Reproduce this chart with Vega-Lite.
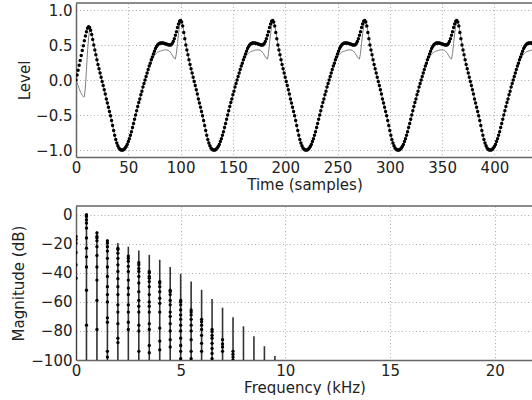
{
"$schema": "https://vega.github.io/schema/vega-lite/v6.json",
"padding": {"left": 11, "top": 2, "right": 0, "bottom": 0},
"background": "white",
"bounds": "flush",
"spacing": 49,
"config": {
 "view": {"stroke": null},
 "font": "DejaVu Sans",
 "axis": {"labelFont": "DejaVu Sans", "labelFontSize": 15, "titleFont": "DejaVu Sans", "titleFontSize": 15, "titleFontWeight": "normal", "labelColor": "#222", "titleColor": "#222", "domainColor": "#666", "domainWidth": 1.5, "tickSize": 0, "gridColor": "#aaa", "gridDash": [1, 2.5], "gridWidth": 1, "labelPadding": 4, "labelFlush": false, "labelOverlap": false}
},
"datasets": {
 "wave": [
{"t":0,"a":0,"b":0},{"t":1,"a":0.07,"b":-0.04},{"t":2,"a":0.14,"b":-0.08},{"t":3,"a":0.21,"b":-0.12},{"t":4,"a":0.28,"b":-0.16},{"t":5,"a":0.35,"b":-0.19},{"t":6,"a":0.42,"b":-0.22},{"t":7,"a":0.49,"b":-0.24},{"t":8,"a":0.56,"b":-0.24},{"t":9,"a":0.63,"b":-0.1},{"t":10,"a":0.69,"b":0.15},{"t":11,"a":0.74,"b":0.4},{"t":12,"a":0.76,"b":0.6},{"t":13,"a":0.75,"b":0.72},{"t":14,"a":0.71,"b":0.73},{"t":15,"a":0.65,"b":0.67},{"t":16,"a":0.58,"b":0.59},{"t":17,"a":0.5,"b":0.51},{"t":18,"a":0.43,"b":0.44},{"t":19,"a":0.36,"b":0.37},
{"t":20,"a":0.29,"b":0.29},{"t":21,"a":0.22,"b":0.22},{"t":22,"a":0.16,"b":0.16},{"t":23,"a":0.1,"b":0.1},{"t":24,"a":0.04,"b":0.04},{"t":25,"a":-0.02,"b":-0.02},{"t":26,"a":-0.08,"b":-0.08},{"t":27,"a":-0.14,"b":-0.14},{"t":28,"a":-0.2,"b":-0.2},{"t":29,"a":-0.27,"b":-0.27},{"t":30,"a":-0.33,"b":-0.33},{"t":31,"a":-0.39,"b":-0.39},{"t":32,"a":-0.45,"b":-0.45},{"t":33,"a":-0.51,"b":-0.51},{"t":34,"a":-0.58,"b":-0.58},{"t":35,"a":-0.65,"b":-0.65},{"t":36,"a":-0.72,"b":-0.72},{"t":37,"a":-0.79,"b":-0.79},{"t":38,"a":-0.85,"b":-0.85},{"t":39,"a":-0.9,"b":-0.9},{"t":40,"a":-0.94,"b":-0.94},{"t":41,"a":-0.97,"b":-0.97},{"t":42,"a":-0.99,"b":-0.99},{"t":43,"a":-1,"b":-1},{"t":44,"a":-1,"b":-1},{"t":45,"a":-1,"b":-1},{"t":46,"a":-0.99,"b":-0.99},{"t":47,"a":-0.97,"b":-0.97},{"t":48,"a":-0.95,"b":-0.95},{"t":49,"a":-0.92,"b":-0.92},{"t":50,"a":-0.88,"b":-0.88},{"t":51,"a":-0.84,"b":-0.84},{"t":52,"a":-0.79,"b":-0.79},{"t":53,"a":-0.74,"b":-0.74},{"t":54,"a":-0.68,"b":-0.68},{"t":55,"a":-0.62,"b":-0.62},{"t":56,"a":-0.56,"b":-0.56},{"t":57,"a":-0.5,"b":-0.5},{"t":58,"a":-0.44,"b":-0.44},{"t":59,"a":-0.38,"b":-0.38},{"t":60,"a":-0.32,"b":-0.32},{"t":61,"a":-0.27,"b":-0.27},{"t":62,"a":-0.21,"b":-0.21},{"t":63,"a":-0.16,"b":-0.16},{"t":64,"a":-0.1,"b":-0.1},{"t":65,"a":-0.05,"b":-0.05},{"t":66,"a":0,"b":0},{"t":67,"a":0.05,"b":0.05},{"t":68,"a":0.1,"b":0.1},{"t":69,"a":0.15,"b":0.15},
{"t":70,"a":0.2,"b":0.195},{"t":71,"a":0.24,"b":0.235},{"t":72,"a":0.29,"b":0.27},{"t":73,"a":0.33,"b":0.3},{"t":74,"a":0.37,"b":0.325},{"t":75,"a":0.41,"b":0.35},{"t":76,"a":0.45,"b":0.37},{"t":77,"a":0.48,"b":0.385},{"t":78,"a":0.5,"b":0.395},{"t":79,"a":0.515,"b":0.405},{"t":80,"a":0.525,"b":0.41},{"t":81,"a":0.53,"b":0.415},{"t":82,"a":0.53,"b":0.42},{"t":83,"a":0.53,"b":0.425},{"t":84,"a":0.525,"b":0.43},{"t":85,"a":0.52,"b":0.43},{"t":86,"a":0.515,"b":0.43},{"t":87,"a":0.51,"b":0.43},{"t":88,"a":0.505,"b":0.425},{"t":89,"a":0.5,"b":0.415},{"t":90,"a":0.5,"b":0.4},{"t":91,"a":0.505,"b":0.38},{"t":92,"a":0.52,"b":0.355},{"t":93,"a":0.55,"b":0.33},{"t":94,"a":0.59,"b":0.31},{"t":95,"a":0.64,"b":0.3},{"t":96,"a":0.69,"b":0.38},{"t":97,"a":0.75,"b":0.52},{"t":98,"a":0.8,"b":0.66},{"t":99,"a":0.84,"b":0.77},
{"t":100,"a":0.85,"b":0.83},{"t":101,"a":0.83,"b":0.82},{"t":102,"a":0.77,"b":0.78},{"t":103,"a":0.68,"b":0.7},{"t":104,"a":0.59,"b":0.61},{"t":105,"a":0.5,"b":0.52},{"t":106,"a":0.43,"b":0.44},{"t":107,"a":0.36,"b":0.37},
{"t":108,"a":0.29,"b":0.29},{"t":109,"a":0.22,"b":0.22},{"t":110,"a":0.16,"b":0.16},{"t":111,"a":0.1,"b":0.1},{"t":112,"a":0.04,"b":0.04},{"t":113,"a":-0.02,"b":-0.02},{"t":114,"a":-0.08,"b":-0.08},{"t":115,"a":-0.14,"b":-0.14},{"t":116,"a":-0.2,"b":-0.2},{"t":117,"a":-0.27,"b":-0.27},{"t":118,"a":-0.33,"b":-0.33},{"t":119,"a":-0.39,"b":-0.39},{"t":120,"a":-0.45,"b":-0.45},{"t":121,"a":-0.51,"b":-0.51},{"t":122,"a":-0.58,"b":-0.58},{"t":123,"a":-0.65,"b":-0.65},{"t":124,"a":-0.72,"b":-0.72},{"t":125,"a":-0.79,"b":-0.79},{"t":126,"a":-0.85,"b":-0.85},{"t":127,"a":-0.9,"b":-0.9},{"t":128,"a":-0.94,"b":-0.94},{"t":129,"a":-0.97,"b":-0.97},{"t":130,"a":-0.99,"b":-0.99},{"t":131,"a":-1,"b":-1},{"t":132,"a":-1,"b":-1},{"t":133,"a":-1,"b":-1},{"t":134,"a":-0.99,"b":-0.99},{"t":135,"a":-0.97,"b":-0.97},{"t":136,"a":-0.95,"b":-0.95},{"t":137,"a":-0.92,"b":-0.92},{"t":138,"a":-0.88,"b":-0.88},{"t":139,"a":-0.84,"b":-0.84},{"t":140,"a":-0.79,"b":-0.79},{"t":141,"a":-0.74,"b":-0.74},{"t":142,"a":-0.68,"b":-0.68},{"t":143,"a":-0.62,"b":-0.62},{"t":144,"a":-0.56,"b":-0.56},{"t":145,"a":-0.5,"b":-0.5},{"t":146,"a":-0.44,"b":-0.44},{"t":147,"a":-0.38,"b":-0.38},{"t":148,"a":-0.32,"b":-0.32},{"t":149,"a":-0.27,"b":-0.27},{"t":150,"a":-0.21,"b":-0.21},{"t":151,"a":-0.16,"b":-0.16},{"t":152,"a":-0.1,"b":-0.1},{"t":153,"a":-0.05,"b":-0.05},{"t":154,"a":0,"b":0},{"t":155,"a":0.05,"b":0.05},{"t":156,"a":0.1,"b":0.1},{"t":157,"a":0.15,"b":0.15},
{"t":158,"a":0.2,"b":0.195},{"t":159,"a":0.24,"b":0.235},{"t":160,"a":0.29,"b":0.27},{"t":161,"a":0.33,"b":0.3},{"t":162,"a":0.37,"b":0.325},{"t":163,"a":0.41,"b":0.35},{"t":164,"a":0.45,"b":0.37},{"t":165,"a":0.48,"b":0.385},{"t":166,"a":0.5,"b":0.395},{"t":167,"a":0.515,"b":0.405},{"t":168,"a":0.525,"b":0.41},{"t":169,"a":0.53,"b":0.415},{"t":170,"a":0.53,"b":0.42},{"t":171,"a":0.53,"b":0.425},{"t":172,"a":0.525,"b":0.43},{"t":173,"a":0.52,"b":0.43},{"t":174,"a":0.515,"b":0.43},{"t":175,"a":0.51,"b":0.43},{"t":176,"a":0.505,"b":0.425},{"t":177,"a":0.5,"b":0.415},{"t":178,"a":0.5,"b":0.4},{"t":179,"a":0.505,"b":0.38},{"t":180,"a":0.52,"b":0.355},{"t":181,"a":0.55,"b":0.33},{"t":182,"a":0.59,"b":0.31},{"t":183,"a":0.64,"b":0.3},{"t":184,"a":0.69,"b":0.38},{"t":185,"a":0.75,"b":0.52},{"t":186,"a":0.8,"b":0.66},{"t":187,"a":0.84,"b":0.77},
{"t":188,"a":0.85,"b":0.83},{"t":189,"a":0.83,"b":0.82},{"t":190,"a":0.77,"b":0.78},{"t":191,"a":0.68,"b":0.7},{"t":192,"a":0.59,"b":0.61},{"t":193,"a":0.5,"b":0.52},{"t":194,"a":0.43,"b":0.44},{"t":195,"a":0.36,"b":0.37},
{"t":196,"a":0.29,"b":0.29},{"t":197,"a":0.22,"b":0.22},{"t":198,"a":0.16,"b":0.16},{"t":199,"a":0.1,"b":0.1},{"t":200,"a":0.04,"b":0.04},{"t":201,"a":-0.02,"b":-0.02},{"t":202,"a":-0.08,"b":-0.08},{"t":203,"a":-0.14,"b":-0.14},{"t":204,"a":-0.2,"b":-0.2},{"t":205,"a":-0.27,"b":-0.27},{"t":206,"a":-0.33,"b":-0.33},{"t":207,"a":-0.39,"b":-0.39},{"t":208,"a":-0.45,"b":-0.45},{"t":209,"a":-0.51,"b":-0.51},{"t":210,"a":-0.58,"b":-0.58},{"t":211,"a":-0.65,"b":-0.65},{"t":212,"a":-0.72,"b":-0.72},{"t":213,"a":-0.79,"b":-0.79},{"t":214,"a":-0.85,"b":-0.85},{"t":215,"a":-0.9,"b":-0.9},{"t":216,"a":-0.94,"b":-0.94},{"t":217,"a":-0.97,"b":-0.97},{"t":218,"a":-0.99,"b":-0.99},{"t":219,"a":-1,"b":-1},{"t":220,"a":-1,"b":-1},{"t":221,"a":-1,"b":-1},{"t":222,"a":-0.99,"b":-0.99},{"t":223,"a":-0.97,"b":-0.97},{"t":224,"a":-0.95,"b":-0.95},{"t":225,"a":-0.92,"b":-0.92},{"t":226,"a":-0.88,"b":-0.88},{"t":227,"a":-0.84,"b":-0.84},{"t":228,"a":-0.79,"b":-0.79},{"t":229,"a":-0.74,"b":-0.74},{"t":230,"a":-0.68,"b":-0.68},{"t":231,"a":-0.62,"b":-0.62},{"t":232,"a":-0.56,"b":-0.56},{"t":233,"a":-0.5,"b":-0.5},{"t":234,"a":-0.44,"b":-0.44},{"t":235,"a":-0.38,"b":-0.38},{"t":236,"a":-0.32,"b":-0.32},{"t":237,"a":-0.27,"b":-0.27},{"t":238,"a":-0.21,"b":-0.21},{"t":239,"a":-0.16,"b":-0.16},{"t":240,"a":-0.1,"b":-0.1},{"t":241,"a":-0.05,"b":-0.05},{"t":242,"a":0,"b":0},{"t":243,"a":0.05,"b":0.05},{"t":244,"a":0.1,"b":0.1},{"t":245,"a":0.15,"b":0.15},
{"t":246,"a":0.2,"b":0.195},{"t":247,"a":0.24,"b":0.235},{"t":248,"a":0.29,"b":0.27},{"t":249,"a":0.33,"b":0.3},{"t":250,"a":0.37,"b":0.325},{"t":251,"a":0.41,"b":0.35},{"t":252,"a":0.45,"b":0.37},{"t":253,"a":0.48,"b":0.385},{"t":254,"a":0.5,"b":0.395},{"t":255,"a":0.515,"b":0.405},{"t":256,"a":0.525,"b":0.41},{"t":257,"a":0.53,"b":0.415},{"t":258,"a":0.53,"b":0.42},{"t":259,"a":0.53,"b":0.425},{"t":260,"a":0.525,"b":0.43},{"t":261,"a":0.52,"b":0.43},{"t":262,"a":0.515,"b":0.43},{"t":263,"a":0.51,"b":0.43},{"t":264,"a":0.505,"b":0.425},{"t":265,"a":0.5,"b":0.415},{"t":266,"a":0.5,"b":0.4},{"t":267,"a":0.505,"b":0.38},{"t":268,"a":0.52,"b":0.355},{"t":269,"a":0.55,"b":0.33},{"t":270,"a":0.59,"b":0.31},{"t":271,"a":0.64,"b":0.3},{"t":272,"a":0.69,"b":0.38},{"t":273,"a":0.75,"b":0.52},{"t":274,"a":0.8,"b":0.66},{"t":275,"a":0.84,"b":0.77},
{"t":276,"a":0.85,"b":0.83},{"t":277,"a":0.83,"b":0.82},{"t":278,"a":0.77,"b":0.78},{"t":279,"a":0.68,"b":0.7},{"t":280,"a":0.59,"b":0.61},{"t":281,"a":0.5,"b":0.52},{"t":282,"a":0.43,"b":0.44},{"t":283,"a":0.36,"b":0.37},
{"t":284,"a":0.29,"b":0.29},{"t":285,"a":0.22,"b":0.22},{"t":286,"a":0.16,"b":0.16},{"t":287,"a":0.1,"b":0.1},{"t":288,"a":0.04,"b":0.04},{"t":289,"a":-0.02,"b":-0.02},{"t":290,"a":-0.08,"b":-0.08},{"t":291,"a":-0.14,"b":-0.14},{"t":292,"a":-0.2,"b":-0.2},{"t":293,"a":-0.27,"b":-0.27},{"t":294,"a":-0.33,"b":-0.33},{"t":295,"a":-0.39,"b":-0.39},{"t":296,"a":-0.45,"b":-0.45},{"t":297,"a":-0.51,"b":-0.51},{"t":298,"a":-0.58,"b":-0.58},{"t":299,"a":-0.65,"b":-0.65},{"t":300,"a":-0.72,"b":-0.72},{"t":301,"a":-0.79,"b":-0.79},{"t":302,"a":-0.85,"b":-0.85},{"t":303,"a":-0.9,"b":-0.9},{"t":304,"a":-0.94,"b":-0.94},{"t":305,"a":-0.97,"b":-0.97},{"t":306,"a":-0.99,"b":-0.99},{"t":307,"a":-1,"b":-1},{"t":308,"a":-1,"b":-1},{"t":309,"a":-1,"b":-1},{"t":310,"a":-0.99,"b":-0.99},{"t":311,"a":-0.97,"b":-0.97},{"t":312,"a":-0.95,"b":-0.95},{"t":313,"a":-0.92,"b":-0.92},{"t":314,"a":-0.88,"b":-0.88},{"t":315,"a":-0.84,"b":-0.84},{"t":316,"a":-0.79,"b":-0.79},{"t":317,"a":-0.74,"b":-0.74},{"t":318,"a":-0.68,"b":-0.68},{"t":319,"a":-0.62,"b":-0.62},{"t":320,"a":-0.56,"b":-0.56},{"t":321,"a":-0.5,"b":-0.5},{"t":322,"a":-0.44,"b":-0.44},{"t":323,"a":-0.38,"b":-0.38},{"t":324,"a":-0.32,"b":-0.32},{"t":325,"a":-0.27,"b":-0.27},{"t":326,"a":-0.21,"b":-0.21},{"t":327,"a":-0.16,"b":-0.16},{"t":328,"a":-0.1,"b":-0.1},{"t":329,"a":-0.05,"b":-0.05},{"t":330,"a":0,"b":0},{"t":331,"a":0.05,"b":0.05},{"t":332,"a":0.1,"b":0.1},{"t":333,"a":0.15,"b":0.15},
{"t":334,"a":0.2,"b":0.195},{"t":335,"a":0.24,"b":0.235},{"t":336,"a":0.29,"b":0.27},{"t":337,"a":0.33,"b":0.3},{"t":338,"a":0.37,"b":0.325},{"t":339,"a":0.41,"b":0.35},{"t":340,"a":0.45,"b":0.37},{"t":341,"a":0.48,"b":0.385},{"t":342,"a":0.5,"b":0.395},{"t":343,"a":0.515,"b":0.405},{"t":344,"a":0.525,"b":0.41},{"t":345,"a":0.53,"b":0.415},{"t":346,"a":0.53,"b":0.42},{"t":347,"a":0.53,"b":0.425},{"t":348,"a":0.525,"b":0.43},{"t":349,"a":0.52,"b":0.43},{"t":350,"a":0.515,"b":0.43},{"t":351,"a":0.51,"b":0.43},{"t":352,"a":0.505,"b":0.425},{"t":353,"a":0.5,"b":0.415},{"t":354,"a":0.5,"b":0.4},{"t":355,"a":0.505,"b":0.38},{"t":356,"a":0.52,"b":0.355},{"t":357,"a":0.55,"b":0.33},{"t":358,"a":0.59,"b":0.31},{"t":359,"a":0.64,"b":0.3},{"t":360,"a":0.69,"b":0.38},{"t":361,"a":0.75,"b":0.52},{"t":362,"a":0.8,"b":0.66},{"t":363,"a":0.84,"b":0.77},
{"t":364,"a":0.85,"b":0.83},{"t":365,"a":0.83,"b":0.82},{"t":366,"a":0.77,"b":0.78},{"t":367,"a":0.68,"b":0.7},{"t":368,"a":0.59,"b":0.61},{"t":369,"a":0.5,"b":0.52},{"t":370,"a":0.43,"b":0.44},{"t":371,"a":0.36,"b":0.37},
{"t":372,"a":0.29,"b":0.29},{"t":373,"a":0.22,"b":0.22},{"t":374,"a":0.16,"b":0.16},{"t":375,"a":0.1,"b":0.1},{"t":376,"a":0.04,"b":0.04},{"t":377,"a":-0.02,"b":-0.02},{"t":378,"a":-0.08,"b":-0.08},{"t":379,"a":-0.14,"b":-0.14},{"t":380,"a":-0.2,"b":-0.2},{"t":381,"a":-0.27,"b":-0.27},{"t":382,"a":-0.33,"b":-0.33},{"t":383,"a":-0.39,"b":-0.39},{"t":384,"a":-0.45,"b":-0.45},{"t":385,"a":-0.51,"b":-0.51},{"t":386,"a":-0.58,"b":-0.58},{"t":387,"a":-0.65,"b":-0.65},{"t":388,"a":-0.72,"b":-0.72},{"t":389,"a":-0.79,"b":-0.79},{"t":390,"a":-0.85,"b":-0.85},{"t":391,"a":-0.9,"b":-0.9},{"t":392,"a":-0.94,"b":-0.94},{"t":393,"a":-0.97,"b":-0.97},{"t":394,"a":-0.99,"b":-0.99},{"t":395,"a":-1,"b":-1},{"t":396,"a":-1,"b":-1},{"t":397,"a":-1,"b":-1},{"t":398,"a":-0.99,"b":-0.99},{"t":399,"a":-0.97,"b":-0.97},{"t":400,"a":-0.95,"b":-0.95},{"t":401,"a":-0.92,"b":-0.92},{"t":402,"a":-0.88,"b":-0.88},{"t":403,"a":-0.84,"b":-0.84},{"t":404,"a":-0.79,"b":-0.79},{"t":405,"a":-0.74,"b":-0.74},{"t":406,"a":-0.68,"b":-0.68},{"t":407,"a":-0.62,"b":-0.62},{"t":408,"a":-0.56,"b":-0.56},{"t":409,"a":-0.5,"b":-0.5},{"t":410,"a":-0.44,"b":-0.44},{"t":411,"a":-0.38,"b":-0.38},{"t":412,"a":-0.32,"b":-0.32},{"t":413,"a":-0.27,"b":-0.27},{"t":414,"a":-0.21,"b":-0.21},{"t":415,"a":-0.16,"b":-0.16},{"t":416,"a":-0.1,"b":-0.1},{"t":417,"a":-0.05,"b":-0.05},{"t":418,"a":0,"b":0},{"t":419,"a":0.05,"b":0.05},{"t":420,"a":0.1,"b":0.1},{"t":421,"a":0.15,"b":0.15},
{"t":422,"a":0.2,"b":0.195},{"t":423,"a":0.24,"b":0.235},{"t":424,"a":0.29,"b":0.27},{"t":425,"a":0.33,"b":0.3},{"t":426,"a":0.37,"b":0.325},{"t":427,"a":0.41,"b":0.35},{"t":428,"a":0.45,"b":0.37},{"t":429,"a":0.48,"b":0.385},{"t":430,"a":0.5,"b":0.395},{"t":431,"a":0.515,"b":0.405},{"t":432,"a":0.525,"b":0.41},{"t":433,"a":0.53,"b":0.415},{"t":434,"a":0.53,"b":0.42},{"t":435,"a":0.53,"b":0.425},{"t":436,"a":0.525,"b":0.43},{"t":437,"a":0.52,"b":0.43}
 ],
 "stems": [
{"f":0,"top":-14},{"f":0.5,"top":0},{"f":1,"top":-11.5},{"f":1.5,"top":-17},{"f":2,"top":-19.5},{"f":2.5,"top":-22},{"f":3,"top":-24.6},{"f":3.5,"top":-27.6},{"f":4,"top":-31},{"f":4.5,"top":-36},{"f":5,"top":-40.7},{"f":5.5,"top":-46},{"f":6,"top":-51.7},{"f":6.5,"top":-58},{"f":7,"top":-64},{"f":7.5,"top":-70.5},{"f":8,"top":-76.8},{"f":8.5,"top":-83.7},{"f":9,"top":-90.5},{"f":9.5,"top":-97.3}
 ],
 "dots": [
{"f":0,"m":-15},{"f":0,"m":-17},{"f":0,"m":-19.5},{"f":0,"m":-26},{"f":0,"m":-34.5},{"f":0,"m":-43.7},
{"f":0.5,"m":0},{"f":0.5,"m":-1.2},{"f":0.5,"m":-3.4},{"f":0.5,"m":-5.7},{"f":0.5,"m":-9.2},{"f":0.5,"m":-16},{"f":0.5,"m":-23},{"f":0.5,"m":-29},{"f":0.5,"m":-36},{"f":0.5,"m":-52},{"f":0.5,"m":-76},
{"f":1,"m":-12.5},{"f":1,"m":-15},{"f":1,"m":-16},{"f":1,"m":-18},{"f":1,"m":-22},{"f":1,"m":-28},{"f":1,"m":-36},{"f":1,"m":-45},{"f":1,"m":-59},{"f":1,"m":-79},
{"f":1.5,"m":-18},{"f":1.5,"m":-19.5},{"f":1.5,"m":-22},{"f":1.5,"m":-25},{"f":1.5,"m":-30},{"f":1.5,"m":-36},{"f":1.5,"m":-42.5},{"f":1.5,"m":-49.5},{"f":1.5,"m":-55},{"f":1.5,"m":-60},{"f":1.5,"m":-71},{"f":1.5,"m":-74},{"f":1.5,"m":-94},{"f":1.5,"m":-98},
{"f":2,"m":-23},{"f":2,"m":-24},{"f":2,"m":-26.5},{"f":2,"m":-30},{"f":2,"m":-34.5},{"f":2,"m":-39},{"f":2,"m":-44},{"f":2,"m":-49.5},{"f":2,"m":-55},{"f":2,"m":-62},{"f":2,"m":-67},{"f":2,"m":-75},{"f":2,"m":-85},{"f":2,"m":-88},
{"f":2.5,"m":-28.5},{"f":2.5,"m":-30},{"f":2.5,"m":-32},{"f":2.5,"m":-35.5},{"f":2.5,"m":-39},{"f":2.5,"m":-45},{"f":2.5,"m":-50.5},{"f":2.5,"m":-55},{"f":2.5,"m":-62},{"f":2.5,"m":-67},{"f":2.5,"m":-74},{"f":2.5,"m":-79},
{"f":3,"m":-33},{"f":3,"m":-34.5},{"f":3,"m":-37},{"f":3,"m":-39},{"f":3,"m":-42.5},{"f":3,"m":-47},{"f":3,"m":-53},{"f":3,"m":-59},{"f":3,"m":-63},{"f":3,"m":-67},{"f":3,"m":-76},{"f":3,"m":-80},{"f":3,"m":-94},
{"f":3.5,"m":-39},{"f":3.5,"m":-40},{"f":3.5,"m":-42.5},{"f":3.5,"m":-43.7},{"f":3.5,"m":-46},{"f":3.5,"m":-49.5},{"f":3.5,"m":-55},{"f":3.5,"m":-60},{"f":3.5,"m":-63},{"f":3.5,"m":-67},{"f":3.5,"m":-75},{"f":3.5,"m":-79},{"f":3.5,"m":-90},{"f":3.5,"m":-95},
{"f":4,"m":-46},{"f":4,"m":-47},{"f":4,"m":-49.5},{"f":4,"m":-53},{"f":4,"m":-57.5},{"f":4,"m":-61},{"f":4,"m":-67},{"f":4,"m":-78},{"f":4,"m":-87},{"f":4,"m":-93},
{"f":4.5,"m":-52},{"f":4.5,"m":-53},{"f":4.5,"m":-55},{"f":4.5,"m":-59},{"f":4.5,"m":-62},{"f":4.5,"m":-67},{"f":4.5,"m":-70},{"f":4.5,"m":-75},{"f":4.5,"m":-80},{"f":4.5,"m":-86},{"f":4.5,"m":-91},
{"f":5,"m":-59},{"f":5,"m":-60},{"f":5,"m":-62},{"f":5,"m":-65.5},{"f":5,"m":-69},{"f":5,"m":-72},{"f":5,"m":-76},{"f":5,"m":-80},{"f":5,"m":-85},{"f":5,"m":-90},{"f":5,"m":-94},{"f":5,"m":-99},
{"f":5.5,"m":-65.5},{"f":5.5,"m":-67},{"f":5.5,"m":-69},{"f":5.5,"m":-72},{"f":5.5,"m":-76},{"f":5.5,"m":-80},{"f":5.5,"m":-86},{"f":5.5,"m":-94},{"f":5.5,"m":-99},
{"f":6,"m":-72},{"f":6,"m":-73.6},{"f":6,"m":-76},{"f":6,"m":-79},{"f":6,"m":-83},{"f":6,"m":-88.5},{"f":6,"m":-94},
{"f":6.5,"m":-79},{"f":6.5,"m":-80.5},{"f":6.5,"m":-83},{"f":6.5,"m":-85},{"f":6.5,"m":-88.5},{"f":6.5,"m":-92},{"f":6.5,"m":-95.5},{"f":6.5,"m":-99},
{"f":7,"m":-86},{"f":7,"m":-89},{"f":7,"m":-91},{"f":7,"m":-94},
{"f":7.5,"m":-94},{"f":7.5,"m":-96},{"f":7.5,"m":-98},{"f":7.5,"m":-100}
 ],
 "frame": [{}]
},
"vconcat": [
 {
  "width": 457, "height": 154,
  "layer": [
   {"data": {"name": "wave"}, "mark": {"type": "line", "color": "#808080", "strokeWidth": 1, "clip": true},
    "encoding": {
     "x": {"field": "t", "type": "quantitative", "scale": {"domain": [0, 436.9], "nice": false, "zero": false}, "axis": {"title": "Time (samples)", "values": [0, 50, 100, 150, 200, 250, 300, 350, 400], "grid": true, "labelPadding": 3, "titlePadding": 2, "labelOverlap": false}},
     "y": {"field": "b", "type": "quantitative", "scale": {"domain": [-1.1, 1.1], "nice": false, "zero": false}, "axis": {"title": "Level", "values": [-1, -0.5, 0, 0.5, 1], "format": ".1f", "grid": true, "titlePadding": 3, "labelOverlap": false}}
    }},
   {"data": {"name": "wave"}, "mark": {"type": "circle", "color": "black", "size": 12, "opacity": 1, "clip": true},
    "encoding": {
     "x": {"field": "t", "type": "quantitative", "axis": {"title": "Time (samples)", "values": [0, 50, 100, 150, 200, 250, 300, 350, 400], "grid": true, "labelPadding": 3, "titlePadding": 2, "labelOverlap": false}},
     "y": {"field": "a", "type": "quantitative", "axis": {"title": "Level", "values": [-1, -0.5, 0, 0.5, 1], "format": ".1f", "grid": true, "titlePadding": 3, "labelOverlap": false}}
    }},
   {"data": {"name": "frame"}, "mark": {"type": "rule", "color": "#666", "strokeWidth": 1.5}, "encoding": {"y": {"datum": 1.1, "type": "quantitative", "axis": {"title": "Level", "values": [-1, -0.5, 0, 0.5, 1], "format": ".1f", "grid": true, "titlePadding": 3, "labelOverlap": false}}}}
  ]
 },
 {
  "width": 457, "height": 154,
  "layer": [
   {"data": {"name": "stems"}, "mark": {"type": "rule", "color": "#333", "strokeWidth": 1.6, "clip": true},
    "encoding": {
     "x": {"field": "f", "type": "quantitative", "scale": {"domain": [0, 21.83], "nice": false, "zero": false}, "axis": {"title": "Frequency (kHz)", "values": [0, 5, 10, 15, 20], "grid": true, "labelPadding": 3, "titlePadding": 2, "labelOverlap": false}},
     "y": {"field": "top", "type": "quantitative", "scale": {"domain": [-100, 6], "nice": false, "zero": false}, "axis": {"title": "Magnitude (dB)", "values": [-100, -80, -60, -40, -20, 0], "format": "d", "grid": true, "titlePadding": 4, "labelOverlap": false}},
     "y2": {"datum": -100}
    }},
   {"data": {"name": "dots"}, "mark": {"type": "circle", "color": "black", "size": 11, "opacity": 1, "clip": true},
    "encoding": {
     "x": {"field": "f", "type": "quantitative", "axis": {"title": "Frequency (kHz)", "values": [0, 5, 10, 15, 20], "grid": true, "labelPadding": 3, "titlePadding": 2, "labelOverlap": false}},
     "y": {"field": "m", "type": "quantitative", "axis": {"title": "Magnitude (dB)", "values": [-100, -80, -60, -40, -20, 0], "format": "d", "grid": true, "titlePadding": 4, "labelOverlap": false}}
    }},
   {"data": {"name": "frame"}, "mark": {"type": "rule", "color": "#666", "strokeWidth": 1.5}, "encoding": {"y": {"datum": 6, "type": "quantitative", "axis": {"title": "Magnitude (dB)", "values": [-100, -80, -60, -40, -20, 0], "format": "d", "grid": true, "titlePadding": 4, "labelOverlap": false}}}}
  ]
 }
]
}
